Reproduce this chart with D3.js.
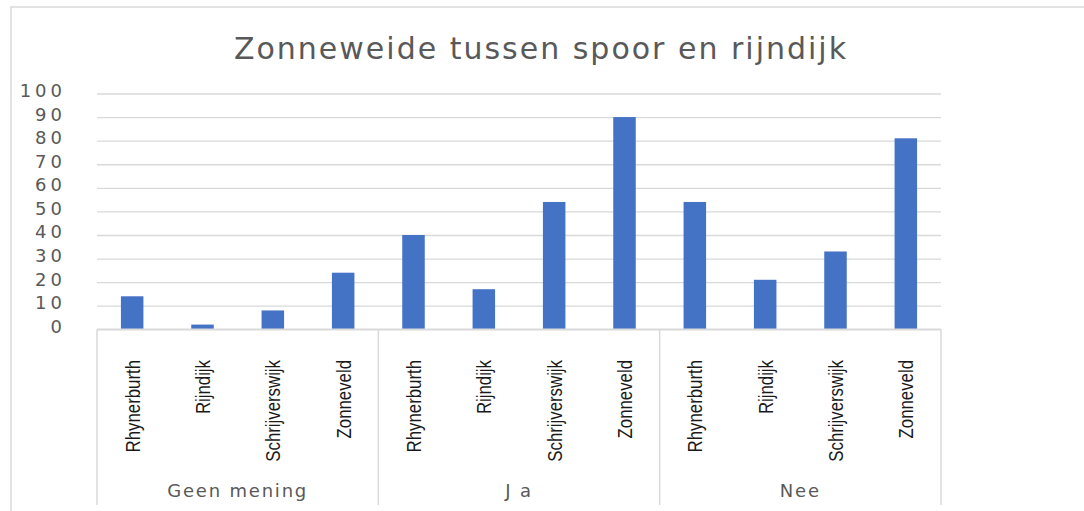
<!DOCTYPE html>
<html>
<head>
<meta charset="utf-8">
<script src="https://cdn.jsdelivr.net/npm/d3@7"></script>
<style>
  body { margin: 0; background: #fff; }
  .grid line { stroke: #d9d9d9; stroke-width: 1.3; }
  .grid path { display: none; }
  .y-label { font-family: "DejaVu Sans", sans-serif; font-size: 18px; fill: #595959; letter-spacing: 4px; }
  .cat-label { font-family: "Liberation Sans", Arial, sans-serif; font-size: 21px; fill: #1a1a1a; }
  .group-label { font-family: "DejaVu Sans", sans-serif; font-size: 18px; fill: #595959; letter-spacing: 1.8px; }
  .title { font-family: "DejaVu Sans", sans-serif; font-size: 30px; fill: #595959; letter-spacing: 2px; }
</style>
</head>
<body>
<svg id="chart" width="1084" height="511"></svg>
<script>
const groups = ["Geen mening", "J a", "Nee"];
const locations = ["Rhynerburth", "Rijndijk", "Schrijverswijk", "Zonneveld"];
const geenMening = [14, 2, 8, 24];
const ja = [40, 17, 54, 90];
const nee = [54, 21, 33, 81];
const yTicks = [0, 10, 20, 30, 40, 50, 60, 70, 80, 90, 100];

const seriesByGroup = [geenMening, ja, nee];
const rows = [];
groups.forEach((g, gi) => {
  locations.forEach((loc, li) => {
    rows.push({ group: g, location: loc, value: seriesByGroup[gi][li] });
  });
});

const svg = d3.select("#chart");
const plotLeft = 97, plotRight = 941, plotTop = 93.5, plotBottom = 329.3;

// chart frame (cut off at right and bottom like the source)
svg.append("rect")
  .attr("x", 11).attr("y", 7)
  .attr("width", 1200).attr("height", 700)
  .attr("fill", "none")
  .attr("stroke", "#d9d9d9")
  .attr("stroke-width", 1.5);

svg.append("text")
  .attr("class", "title")
  .attr("x", (plotLeft + plotRight) / 2 + 22)
  .attr("y", 59)
  .attr("text-anchor", "middle")
  .text("Zonneweide tussen spoor en rijndijk");

const y = d3.scaleLinear().domain([0, 100]).range([plotBottom, plotTop]);
const x0 = d3.scaleBand().domain(groups).range([plotLeft, plotRight]);
const x1 = d3.scaleBand()
  .domain(locations)
  .range([0, x0.bandwidth()])
  .paddingInner(0.68)
  .paddingOuter(0.34);

// gridlines
svg.append("g")
  .attr("class", "grid")
  .attr("transform", `translate(${plotLeft},0)`)
  .call(d3.axisLeft(y).tickValues(yTicks).tickSize(-(plotRight - plotLeft)).tickFormat(""))
  .call((g) => g.selectAll(".tick text").remove());

// y labels
svg.append("g")
  .selectAll("text")
  .data(yTicks)
  .join("text")
  .attr("class", "y-label")
  .attr("x", 66)
  .attr("y", (d) => y(d) - 3)
  .attr("dy", "0.36em")
  .attr("text-anchor", "end")
  .text((d) => d);

// bars
svg.append("g")
  .selectAll("rect")
  .data(rows)
  .join("rect")
  .attr("x", (d) => x0(d.group) + x1(d.location))
  .attr("y", (d) => y(d.value))
  .attr("width", x1.bandwidth())
  .attr("height", (d) => y(0) - y(d.value))
  .attr("fill", "#4472c4");

// category axis: baseline and group dividers
svg.append("line")
  .attr("x1", plotLeft).attr("x2", plotRight)
  .attr("y1", plotBottom).attr("y2", plotBottom)
  .attr("stroke", "#d9d9d9").attr("stroke-width", 1.5);

const dividers = groups.map((g) => x0(g)).concat([x0(groups[groups.length - 1]) + x0.bandwidth()]);
svg.append("g")
  .selectAll("line")
  .data(dividers)
  .join("line")
  .attr("x1", (d) => d).attr("x2", (d) => d)
  .attr("y1", plotBottom).attr("y2", 505)
  .attr("stroke", "#d9d9d9").attr("stroke-width", 1.5);

// rotated location labels (squeezed along the reading direction)
svg.append("g")
  .selectAll("text")
  .data(rows)
  .join("text")
  .attr("class", "cat-label")
  .attr("text-anchor", "end")
  .attr("dy", "0.35em")
  .attr("transform", (d) =>
    `translate(${x0(d.group) + x1(d.location) + x1.bandwidth() / 2},360) rotate(-90) scale(0.8,1)`)
  .text((d) => d.location);

// group labels
svg.append("g")
  .selectAll("text")
  .data(groups)
  .join("text")
  .attr("class", "group-label")
  .attr("x", (d) => x0(d) + x0.bandwidth() / 2)
  .attr("y", 497)
  .attr("text-anchor", "middle")
  .text((d) => d);
</script>
</body>
</html>
